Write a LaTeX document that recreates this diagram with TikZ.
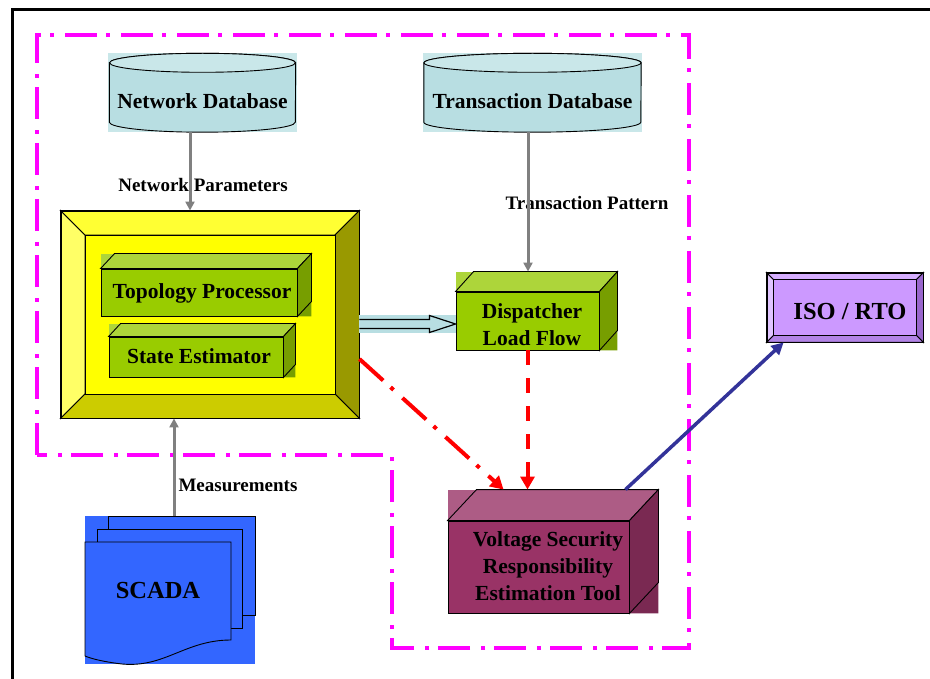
\documentclass[tikz,border=0pt]{standalone}
\usepackage{fontspec}
\setmainfont{Liberation Serif}
\usetikzlibrary{arrows.meta,calc}
\pgfdeclarelayer{bg}
\pgfsetlayers{bg,main}

\definecolor{dbbody}{HTML}{B8DEE2}
\definecolor{dbbg}{HTML}{C9E7E9}
\definecolor{yinner}{HTML}{FFFF00}
\definecolor{yleft}{HTML}{FFFF66}
\definecolor{ytop}{HTML}{FFFF33}
\definecolor{yright}{HTML}{999900}
\definecolor{ybottom}{HTML}{CCCC00}
\definecolor{gfront}{HTML}{99CC00}
\definecolor{gtop}{HTML}{ADD53A}
\definecolor{gside}{HTML}{779E00}
\definecolor{mfront}{HTML}{993366}
\definecolor{mtop}{HTML}{AD5C85}
\definecolor{mside}{HTML}{7A2952}
\definecolor{pinner}{HTML}{CC99FF}
\definecolor{pleft}{HTML}{E0C4FF}
\definecolor{ptop}{HTML}{D6AEFF}
\definecolor{pright}{HTML}{9966CC}
\definecolor{pbottom}{HTML}{B384E6}
\definecolor{scadablue}{HTML}{3366FF}
\definecolor{zonemag}{HTML}{FF00FF}
\definecolor{linkblue}{HTML}{333399}
\definecolor{arrowgray}{HTML}{808080}
\definecolor{blockfill}{HTML}{B8DEE2}

% side and top faces of a box whose front face is node #1
\newcommand\cubefaces[5]{%
  \begin{pgfonlayer}{bg}
    \fill[#4] (#1.south west) rectangle ([xshift=#2pt,yshift=#3pt]#1.north east);
    \fill[#5] (#1.south east) -- ([xshift=#2pt,yshift=#3pt]#1.south east)
      -- ([xshift=#2pt]#1.south east) -- cycle;
    \filldraw[fill=#4,boxline] (#1.north west) -- ([xshift=#2pt,yshift=#3pt]#1.north west)
      -- ([xshift=#2pt,yshift=#3pt]#1.north east) -- (#1.north east) -- cycle;
    \filldraw[fill=#5,boxline] (#1.north east) -- ([xshift=#2pt,yshift=#3pt]#1.north east)
      -- ([xshift=#2pt,yshift=#3pt]#1.south east) -- (#1.south east) -- cycle;
  \end{pgfonlayer}}

% bevelled frame inside node #1: inset #2, colours left/top/right/bottom/inner
\newcommand\bevelfaces[7]{%
  \begin{pgfonlayer}{bg}
    \coordinate (#1-a) at ([xshift=#2pt,yshift=-#2pt]#1.north west);
    \coordinate (#1-b) at ([xshift=-#2pt,yshift=-#2pt]#1.north east);
    \coordinate (#1-c) at ([xshift=-#2pt,yshift=#2pt]#1.south east);
    \coordinate (#1-d) at ([xshift=#2pt,yshift=#2pt]#1.south west);
    \filldraw[fill=#3,boxline] (#1.north west) -- (#1-a) -- (#1-d) -- (#1.south west) -- cycle;
    \filldraw[fill=#4,boxline] (#1.north west) -- (#1.north east) -- (#1-b) -- (#1-a) -- cycle;
    \filldraw[fill=#5,boxline] (#1.north east) -- (#1.south east) -- (#1-c) -- (#1-b) -- cycle;
    \filldraw[fill=#6,boxline] (#1.south west) -- (#1-d) -- (#1-c) -- (#1.south east) -- cycle;
    \filldraw[fill=#7,boxline] (#1-a) rectangle (#1-c);
  \end{pgfonlayer}}

% database drum around node #1, half width #2
\newcommand\drumshape[2]{%
  \begin{pgfonlayer}{bg}
    \fill[dbbg] ([xshift=-1pt,yshift=17pt]#1.north west) rectangle ([xshift=1pt]#1.south east);
    \filldraw[fill=dbbody,boxline] ([yshift=7pt]#1.north west) -- ([yshift=10pt]#1.south west)
      arc[start angle=180,end angle=360,x radius=#2pt,y radius=10pt]
      -- ([yshift=7pt]#1.north east)
      arc[start angle=0,end angle=180,x radius=#2pt,y radius=9.5pt] -- cycle;
    \filldraw[fill=dbbg,boxline] ([yshift=7pt]#1.north) ellipse[x radius=#2pt,y radius=9.5pt];
  \end{pgfonlayer}}

\begin{document}
\begin{tikzpicture}[x=1pt,y=-1pt,
  boxline/.style={draw=black,line width=0.9pt},
  frontface/.style={boxline,inner sep=0pt},
  boxtext/.style={font=\bfseries\fontsize{21.5}{27}\selectfont,align=center,inner sep=0pt},
  bigtext/.style={font=\bfseries\fontsize{24.5}{28}\selectfont,inner sep=0pt},
  lbl/.style={font=\bfseries\fontsize{19}{22}\selectfont,inner sep=0pt},
  zone/.style={draw=zonemag,line width=4.5pt,dash pattern=on 32pt off 9pt on 4pt off 11pt},
  feed/.style={draw=arrowgray,line width=3pt,-{Triangle[length=9pt,width=9pt]}},
  redchain/.style={draw=red,line width=4pt,dash pattern=on 32pt off 10pt on 4pt off 12pt,
    -{Triangle[length=13pt,width=14pt]}},
  reddash/.style={draw=red,line width=4pt,dash pattern=on 15pt off 13pt,
    -{Triangle[length=13pt,width=14pt]}},
  bluelink/.style={draw=linkblue,line width=3.5pt,-{Triangle[length=12pt,width=12pt]}}]

\useasboundingbox (0,0) rectangle (930,679);

% outer frame
\draw[line width=3pt] (930,10) -- (12,10) -- (12,679);

% control-centre zone
\draw[zone] (37,455) -- (37,35) -- (689,35) -- (689,648) -- (392,648) -- (392,455) -- cycle;

% databases
\node[boxtext,minimum width=186pt,minimum height=62pt] (ndb) at (202.5,101) {Network Database};
\drumshape{ndb}{93}
\node[boxtext,minimum width=217pt,minimum height=62pt] (tdb) at (532.5,101) {Transaction Database};
\drumshape{tdb}{108.5}

% EMS frame
\node[boxline,minimum width=298pt,minimum height=207pt] (yel) at (210,314.5) {};
\bevelfaces{yel}{24.5}{yleft}{ytop}{yright}{ybottom}{yinner}

\node[frontface,fill=gfront,minimum width=196pt,minimum height=47pt] (topo) at (199,292.5) {};
\cubefaces{topo}{14}{15}{gtop}{gside}
\node[boxtext] (topotext) at (202,293) {Topology Processor};

\node[frontface,fill=gfront,minimum width=174pt,minimum height=40pt] (state) at (196,357) {};
\cubefaces{state}{12}{13}{gtop}{gside}
\node[boxtext] (statetext) at (199,356) {State Estimator};

% dispatcher
\node[frontface,fill=gfront,minimum width=143pt,minimum height=58pt] (dlf) at (527.5,321) {};
\cubefaces{dlf}{18}{20}{gtop}{gside}
\node[boxtext] (dlftext) at (532,325) {Dispatcher\\Load Flow};

% responsibility tool
\node[frontface,fill=mfront,minimum width=181pt,minimum height=92pt] (vs) at (538.5,567) {};
\cubefaces{vs}{29}{31}{mtop}{mside}
\node[boxtext] (vstext) at (548,566) {Voltage Security\\Responsibility\\Estimation Tool};

% ISO / RTO
\node[boxline,minimum width=156pt,minimum height=69pt] (iso) at (845,307.5) {};
\bevelfaces{iso}{7}{pleft}{ptop}{pright}{pbottom}{pinner}
\node[bigtext] (isotext) at (850,312) {ISO / RTO};

% SCADA pages
\fill[scadablue] (85,516) rectangle (255,664);
\node[boxline,fill=scadablue,minimum width=147pt,minimum height=99pt] (scada) at (181.5,565.5) {};
\draw[boxline,fill=scadablue] (97,529) rectangle (242,628);
\draw[boxline,fill=scadablue] (85,542) -- (231,542) -- (231,640)
  .. controls (185,640) and (165,668) .. (122,664)
  .. controls (105,662) and (92,659) .. (85,656) -- cycle;
\node[bigtext] (scadatext) at (158,591) {SCADA};

% labels
\node[lbl] (lnp) at (203,185) {Network Parameters};
\node[lbl] (ltp) at (587,203) {Transaction Pattern};
\node[lbl] (lms) at (238,485) {Measurements};

% connectors
\draw[feed] ([xshift=-12.5pt]ndb.south) -- ([xshift=-12.5pt]ndb.south |- yel.north);
\coordinate (dlftop) at ([yshift=20pt]dlf.north);
\draw[feed] ([xshift=-4.5pt]tdb.south) -- ([xshift=-4.5pt]tdb.south |- dlftop);
\draw[feed] ([xshift=-7.5pt]scada.north) -- ([xshift=-7.5pt]scada.north |- yel.south);

% block arrow from the estimator frame to the dispatcher
\coordinate (ba) at ([yshift=-9.5pt]yel.east);
\coordinate (bb) at (dlf.west |- ba);
\fill[blockfill] ([yshift=9pt]ba) rectangle ([yshift=-9pt]bb);
\filldraw[fill=blockfill,line width=1.2pt] ([yshift=4.5pt]ba) -- ([xshift=-26pt,yshift=4.5pt]bb)
  -- ([xshift=-26pt,yshift=8.5pt]bb) -- (bb) -- ([xshift=-26pt,yshift=-8.5pt]bb)
  -- ([xshift=-26pt,yshift=-4.5pt]bb) -- ([yshift=-4.5pt]ba);

\coordinate (vstop) at ([yshift=31pt]vs.north);
\draw[redchain] ([yshift=-44.5pt]yel.east) -- ([xshift=56pt,yshift=31pt]vs.north west);
\draw[reddash] (dlf.south) -- (dlf.south |- vstop);
\draw[bluelink] ([xshift=-4pt,yshift=31pt]vs.north east) -- ([xshift=17pt]iso.south west);

\end{tikzpicture}
\end{document}
